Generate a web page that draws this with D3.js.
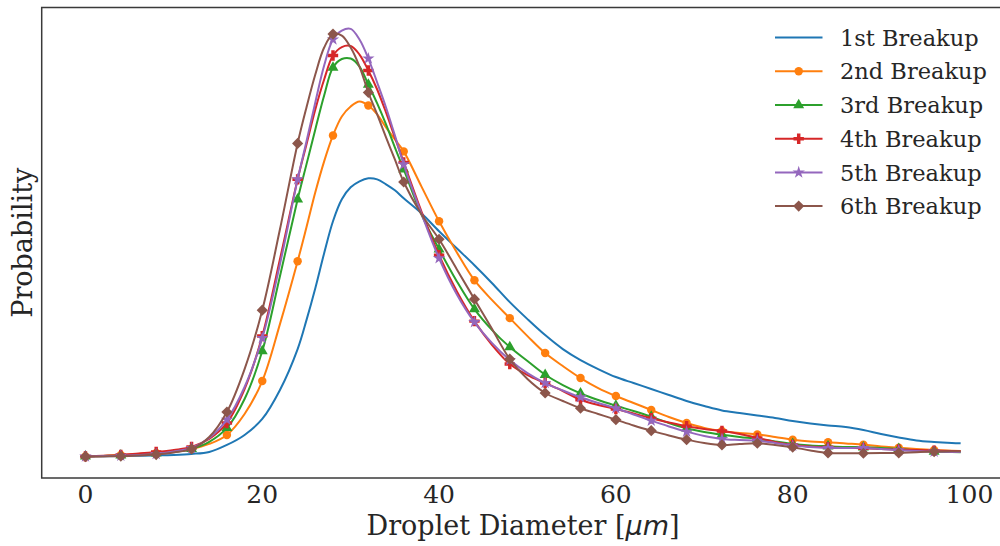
<!DOCTYPE html>
<html>
<head>
<meta charset="utf-8">
<script src="https://cdn.jsdelivr.net/npm/d3@7"></script>
<style>
  body { margin: 0; background: #fff; }
  text { font-family: "DejaVu Serif", serif; fill: #262626; }
</style>
</head>
<body>
<script>
// droplet diameter [um]
const diam = [0, 2, 4, 6, 8, 10, 12, 14, 16, 18, 20, 22, 24, 25, 26, 27, 28, 29, 30, 31, 32, 33, 34, 35, 36,
  38, 40, 42, 44, 46, 48, 50, 52, 54, 56, 58, 60, 62, 64, 66, 68, 70, 72, 74, 76, 78, 80, 82, 84, 86, 88,
  90, 92, 94, 96, 98, 99];

// probability, units of 1e-4
const breakup1 = [0.5, 0.7, 1, 1.2, 1.5, 2, 3, 5, 12, 22, 38, 67, 108, 137, 169, 204, 236, 258, 270, 276, 279, 278, 273, 267, 259,
  244, 226, 209, 192, 174, 155, 138, 122, 108, 97, 88, 80, 74, 68, 62, 56, 51, 46.5, 44, 41.5, 39, 36, 33.5, 31.5, 30, 27,
  23, 19.5, 16.5, 15, 14, 13.7];
const breakup2 = [0.5, 1, 2, 3, 4, 5.5, 8, 13, 22, 43, 76, 133, 196, 230, 265, 296, 322, 341, 351, 356, 352, 343, 330, 318, 306,
  271, 236, 205, 177, 157, 139, 121, 104, 91, 79, 69, 61, 54, 47, 40, 34, 29, 26, 24, 22.5, 20, 17.3, 15.5, 14.7, 13.5, 12.3,
  10.5, 9.3, 8, 7, 6.2, 6];
const breakup3 = [0.5, 1, 1.5, 2.5, 3.5, 5, 8, 15, 29, 58, 106, 181, 258, 293, 328, 362, 390, 398.5, 399, 391, 373, 354, 333, 310, 288,
  243, 208, 176, 148, 127, 110, 96, 82.3, 72, 63.7, 57, 51.3, 46, 40.3, 34, 28.7, 25, 22.3, 20, 18, 15.5, 13, 11.5, 10.7, 10, 9.7,
  9, 8, 6.5, 5.3, 4.8, 4.7];
const breakup4 = [0.5, 1.2, 2, 3.5, 5, 7, 10, 18, 34, 68, 121, 198, 278, 313, 348, 378, 402, 410.5, 411.5, 403, 387, 368, 345, 320, 295,
  246, 202, 166, 136, 112, 93, 82, 74, 66, 57.3, 52, 48, 43.5, 38.7, 34.5, 30.7, 28, 26, 23, 19, 15, 12, 10.5, 9.7, 9, 8.7,
  8, 7.3, 6.8, 6.3, 5.8, 5.7];
const breakup5 = [0.5, 0.8, 1.2, 2, 3, 5.5, 9, 19, 37.3, 70, 119, 193, 278, 316, 355, 392, 418, 427, 428.7, 418, 399, 375, 350, 322, 293,
  244, 199, 163, 135, 114, 97, 84, 74, 66.5, 59.7, 54, 48.7, 42.5, 36.3, 30.5, 25.3, 21, 18, 17, 16.3, 14, 11.3, 10, 9, 9, 9,
  8, 6.7, 6, 5.3, 5, 5];
const breakup6 = [0.3, 0.5, 0.7, 1.5, 2.3, 4.5, 8, 20, 45, 88, 147, 228, 314, 350, 383, 410, 423.5, 422, 410, 391, 365, 343, 320, 298, 275.3,
  243, 218, 188, 158, 128, 98, 78, 64, 56, 48.7, 43, 37.3, 31.5, 26.3, 21.5, 17.3, 14, 12, 13, 13.7, 12, 9.7, 6.5, 4, 3.7, 3.7,
  3.8, 4, 4.7, 5.3, 5.6, 5.7];

const labels = ['1st Breakup', '2nd Breakup', '3rd Breakup', '4th Breakup', '5th Breakup', '6th Breakup'];
const colors = ['#1f77b4', '#ff7f0e', '#2ca02c', '#d62728', '#9467bd', '#8c564b'];
const xTicks = [0, 20, 40, 60, 80, 100];

const W = 1000, H = 546;
const box = { left: 41.7, top: 7.5, right: 1004.4, bottom: 478 };

const series = [breakup1, breakup2, breakup3, breakup4, breakup5, breakup6].map((vals, i) => ({
  name: labels[i],
  color: colors[i],
  marker: [null, 'circle', 'triangle', 'plus', 'star', 'diamond'][i],
  pts: diam.map((d, j) => ({ x: d, y: vals[j] }))
}));

// matplotlib style 5% margins
const xExt = d3.extent(diam);
const xPad = (xExt[1] - xExt[0]) * 0.05;
const allY = series.flatMap(s => s.pts.map(p => p.y));
const yExt = d3.extent(allY);
const yPad = (yExt[1] - yExt[0]) * 0.05;

const x = d3.scaleLinear().domain([xExt[0] - xPad, xExt[1] + xPad]).range([box.left, box.right]);
const y = d3.scaleLinear().domain([yExt[0] - yPad, yExt[1] + yPad]).range([box.bottom, box.top]);

const svg = d3.select('body').append('svg').attr('width', W).attr('height', H);

const symbolFor = m => {
  if (m === 'circle') return d3.symbol(d3.symbolCircle, 56)();
  if (m === 'triangle') return d3.symbol(d3.symbolTriangle, 52)();
  if (m === 'plus') return d3.symbol(d3.symbolCross, 60)();
  if (m === 'star') return d3.symbol(d3.symbolStar, 48)();
  if (m === 'diamond') return d3.symbol(d3.symbolSquare, 62)();
  return null;
};

const plot = svg.append('g');
const line = d3.line().x(d => x(d.x)).y(d => y(d.y)).curve(d3.curveCatmullRom.alpha(0.5));

series.forEach(s => {
  plot.append('path')
    .attr('d', line(s.pts))
    .attr('fill', 'none')
    .attr('stroke', s.color)
    .attr('stroke-width', 2);
  if (s.marker) {
    plot.selectAll(null)
      .data(s.pts.filter(p => p.x % 4 === 0))
      .enter()
      .append('path')
      .attr('d', symbolFor(s.marker))
      .attr('transform', d => 'translate(' + x(d.x) + ',' + y(d.y) + ')' + (s.marker === 'diamond' ? ' rotate(45)' : ''))
      .attr('fill', s.color);
  }
});

// frame
svg.append('rect')
  .attr('x', box.left).attr('y', box.top)
  .attr('width', box.right - box.left).attr('height', box.bottom - box.top)
  .attr('fill', 'none').attr('stroke', '#3a3a3a').attr('stroke-width', 1.5);

// x tick labels
svg.append('g').selectAll('text')
  .data(xTicks)
  .enter()
  .append('text')
  .attr('x', d => x(d))
  .attr('y', 503)
  .attr('text-anchor', 'middle')
  .style('font-size', '25px')
  .text(d => d);

// axis labels
const xl = svg.append('text')
  .attr('x', (box.left + box.right) / 2)
  .attr('y', 535)
  .attr('text-anchor', 'middle')
  .style('font-size', '27px');
xl.append('tspan').text('Droplet Diameter [');
xl.append('tspan').style('font-family', '"DejaVu Sans", sans-serif').style('font-style', 'italic').text('μm');
xl.append('tspan').text(']');

svg.append('text')
  .attr('transform', 'translate(32,' + (box.top + box.bottom) / 2 + ') rotate(-90)')
  .attr('text-anchor', 'middle')
  .style('font-size', '27px')
  .text('Probability');

// legend
const leg = svg.append('g');
series.forEach((s, i) => {
  const ly = 37.6 + i * 33.7;
  leg.append('line')
    .attr('x1', 775).attr('x2', 822.5)
    .attr('y1', ly).attr('y2', ly)
    .attr('stroke', s.color).attr('stroke-width', 2);
  if (s.marker) {
    leg.append('path')
      .attr('d', symbolFor(s.marker))
      .attr('transform', 'translate(798.7,' + ly + ')' + (s.marker === 'diamond' ? ' rotate(45)' : ''))
      .attr('fill', s.color);
  }
  leg.append('text')
    .attr('x', 840)
    .attr('y', ly)
    .attr('dy', '0.36em')
    .style('font-size', '22.5px')
    .text(s.name);
});
</script>
</body>
</html>
